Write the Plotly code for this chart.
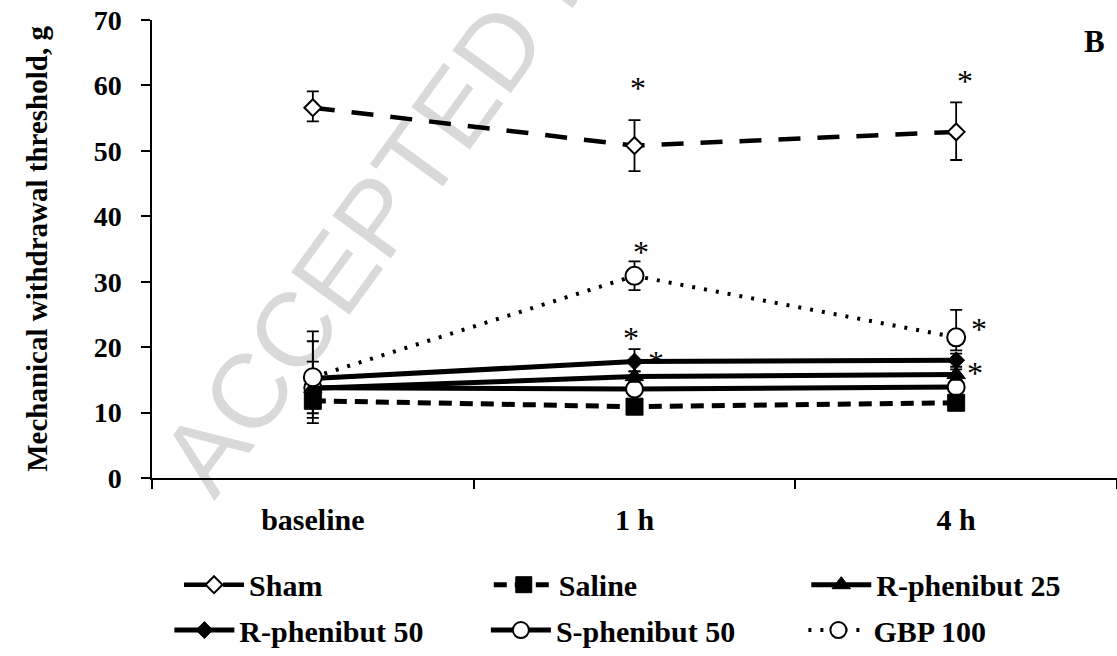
import plotly.graph_objects as go

categories = ["baseline", "1 h", "4 h"]

sham = [56.6, 50.8, 52.9]
sham_err_up = [2.5, 3.9, 4.5]
sham_err_dn = [2.1, 3.9, 4.3]

saline = [11.8, 10.9, 11.5]
saline_err_up = [0.8, 0.5, 0.5]
saline_err_dn = [0.8, 0.5, 0.5]

r25 = [13.7, 15.5, 15.8]
r25_err_up = [1.0, 0.8, 0.8]
r25_err_dn = [4.5, 0.8, 0.8]

r50 = [15.2, 17.8, 18.0]
r50_err_up = [2.6, 1.9, 1.0]
r50_err_dn = [5.3, 1.5, 1.0]

s50 = [13.8, 13.6, 13.9]
s50_err_up = [7.1, 1.0, 1.0]
s50_err_dn = [1.0, 1.0, 1.0]

gbp = [15.4, 30.9, 21.5]
gbp_err_up = [7.0, 2.2, 4.2]
gbp_err_dn = [7.0, 2.2, 2.0]

star_cat = ["1 h", "4 h", "1 h", "4 h", "1 h", "1 h", "4 h"]
star_y = [60.7, 61.7, 35.6, 23.8, 22.5, 18.8, 17.1]
star_xshift = [3, 9, 6, 23, -4, 21, 19]

FONT = "Liberation Serif"
BLACK = "#000000"


def err(up, dn):
    return dict(type="data", symmetric=False, array=up, arrayminus=dn,
                color=BLACK, thickness=1.8, width=6)


fig = go.Figure()

fig.add_trace(go.Scatter(
    x=categories, y=sham, name="Sham", mode="lines+markers",
    line=dict(color=BLACK, width=4.5, dash="22px,17px"),
    marker=dict(symbol="diamond", size=13, color="white", line=dict(color=BLACK, width=2)),
    error_y=err(sham_err_up, sham_err_dn), legend="legend"))

fig.add_trace(go.Scatter(
    x=categories, y=s50, name="S-phenibut 50", mode="lines+markers",
    line=dict(color=BLACK, width=5),
    marker=dict(symbol="circle", size=17, color="white", line=dict(color=BLACK, width=2)),
    error_y=err(s50_err_up, s50_err_dn), legend="legend5"))

fig.add_trace(go.Scatter(
    x=categories, y=saline, name="Saline", mode="lines+markers",
    line=dict(color=BLACK, width=5, dash="13px,8px"),
    marker=dict(symbol="square", size=17, color=BLACK, line=dict(color=BLACK, width=1)),
    error_y=err(saline_err_up, saline_err_dn), legend="legend2"))

fig.add_trace(go.Scatter(
    x=categories, y=r25, name="R-phenibut 25", mode="lines+markers",
    line=dict(color=BLACK, width=5),
    marker=dict(symbol="triangle-up", size=16, color=BLACK, line=dict(color=BLACK, width=1)),
    error_y=err(r25_err_up, r25_err_dn), legend="legend3"))

fig.add_trace(go.Scatter(
    x=categories, y=r50, name="R-phenibut 50", mode="lines+markers",
    line=dict(color=BLACK, width=5),
    marker=dict(symbol="diamond", size=13, color=BLACK, line=dict(color=BLACK, width=1)),
    error_y=err(r50_err_up, r50_err_dn), legend="legend4"))

fig.add_trace(go.Scatter(
    x=categories, y=gbp, name="GBP 100", mode="lines+markers",
    line=dict(color=BLACK, width=4, dash="3px,9px"),
    marker=dict(symbol="circle", size=18, color="white", line=dict(color=BLACK, width=2)),
    error_y=err(gbp_err_up, gbp_err_dn), legend="legend6"))

# significance asterisks
for c, yv, dx in zip(star_cat, star_y, star_xshift):
    fig.add_annotation(x=c, y=yv, xref="x", yref="y", text="*", showarrow=False,
                       xshift=dx, yshift=-7,
                       font=dict(family=FONT, size=32, color=BLACK))

# panel letter
fig.add_annotation(x=0.977, y=0.952, xref="paper", yref="paper", text="B",
                   xanchor="center", yanchor="middle", showarrow=False,
                   font=dict(family=FONT, size=31, color=BLACK, weight="bold"))

# watermark
cx, cy = 0.42, 1.153
fig.add_shape(type="rect", xref="paper", yref="paper",
              x0=cx - 0.005, x1=cx + 0.005, y0=cy - 0.005, y1=cy + 0.005,
              line=dict(width=0), fillcolor="rgba(0,0,0,0)", layer="below",
              label=dict(text="ACCEPTED MANUSCRIPT", textangle=-54, textposition="middle center",
                         font=dict(family="Liberation Sans", size=105, color="#d9d9d9")))


def leg(x, y):
    return dict(orientation="h", itemwidth=60, xanchor="left", yanchor="middle",
                x=x, y=y, borderwidth=0,
                font=dict(family=FONT, size=30, color=BLACK, weight="bold"),
                bgcolor="rgba(0,0,0,0)")


row1, row2 = -0.233, -0.332
fig.update_layout(
    width=1117, height=656,
    margin=dict(l=152, r=0, t=20, b=178, autoexpand=False),
    paper_bgcolor="white", plot_bgcolor="rgba(0,0,0,0)",
    font=dict(family=FONT, color=BLACK),
    showlegend=True,
    legend=leg(0.028, row1),
    legend2=leg(0.349, row1),
    legend3=leg(0.678, row1),
    legend4=leg(0.018, row2),
    legend5=leg(0.346, row2),
    legend6=leg(0.675, row2),
    xaxis=dict(type="category", range=[-0.5, 2.5], showline=True, linecolor=BLACK, linewidth=2,
               ticks="outside", ticklen=9, tickwidth=1.5, tickcolor=BLACK, tickson="boundaries",
               showgrid=False, zeroline=False, ticklabelstandoff=14,
               tickfont=dict(family=FONT, size=30, color=BLACK, weight="bold")),
    yaxis=dict(range=[0, 70], tickmode="array", tickvals=[0, 10, 20, 30, 40, 50, 60, 70],
               showline=True, linecolor=BLACK, linewidth=1.5,
               ticks="outside", ticklen=9, tickwidth=1.5, tickcolor=BLACK,
               showgrid=False, zeroline=False, ticklabelstandoff=14,
               tickfont=dict(family=FONT, size=28, color=BLACK, weight="bold"),
               title=dict(text="Mechanical withdrawal threshold, g", standoff=38,
                          font=dict(family=FONT, size=29, color=BLACK, weight="bold"))),
)

fig.write_html("out.html")
